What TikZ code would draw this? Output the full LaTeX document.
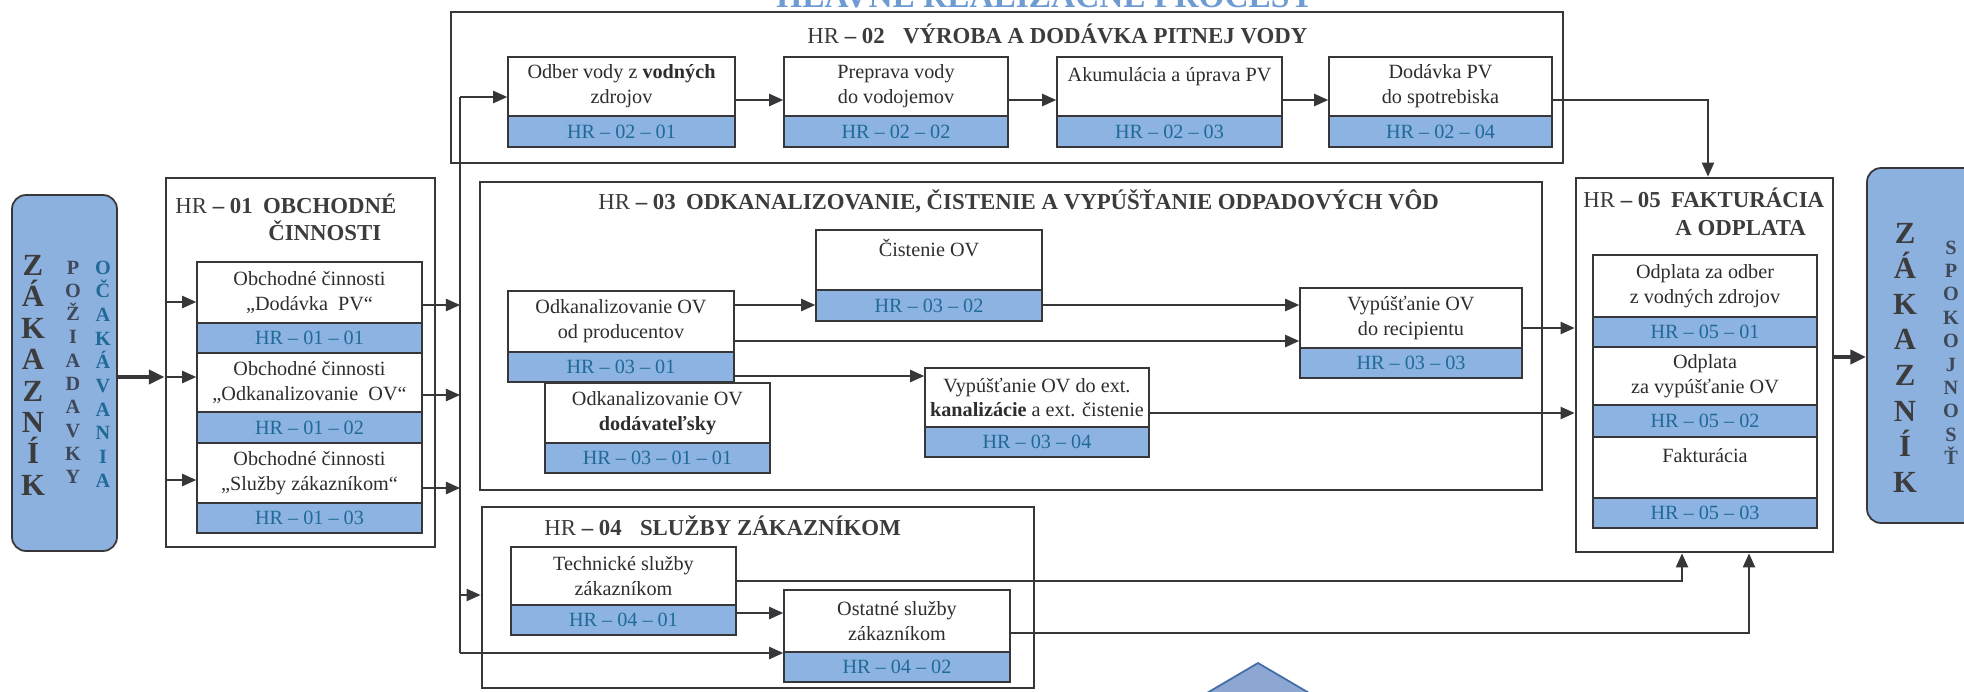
\documentclass[tikz,border=0pt]{standalone}
\usepackage{fontspec}
\setmainfont{Liberation Serif}
\usetikzlibrary{arrows.meta}
\definecolor{bandblue}{RGB}{141,179,226}
\definecolor{custblue}{RGB}{141,177,222}
\definecolor{codeblue}{RGB}{32,106,152}
\definecolor{linegray}{RGB}{55,55,58}
\definecolor{textgray}{RGB}{45,45,45}
\definecolor{titlegray}{RGB}{60,60,60}
\definecolor{reqgray}{RGB}{62,72,88}
\definecolor{diafill}{RGB}{140,168,210}
\definecolor{diadraw}{RGB}{68,108,168}
\definecolor{headblue}{RGB}{110,155,210}
\tikzset{
  grp/.style={draw=linegray, line width=1.6pt, inner sep=0pt},
  procw/.style={draw=linegray, line width=0.9pt, fill=white, inner sep=0pt, align=center, text=textgray, font=\fontsize{11.5}{14.2}\selectfont},
  procc/.style={draw=linegray, line width=0.9pt, fill=bandblue, inner sep=0pt, text=codeblue, font=\fontsize{11.5}{14}\selectfont},
  grptitle/.style={anchor=base west, inner sep=0pt, text=titlegray, font=\fontsize{13}{15}\selectfont\bfseries},
  conn/.style={draw=linegray, line width=0.9pt},
  arr/.style={conn, -{Triangle[length=8pt,width=7pt]}},
  bigarr/.style={draw=linegray, line width=2.2pt, -{Triangle[length=9pt,width=8pt]}},
  cust/.style={draw=linegray, line width=1pt, fill=custblue, rounded corners=8pt, inner sep=0pt},
  bigletter/.style={anchor=base, inner sep=0pt, text=titlegray, font=\fontsize{17.5}{17.5}\selectfont\bfseries},
  smallletter/.style={anchor=base, inner sep=0pt, font=\fontsize{11.5}{11.5}\selectfont\bfseries},
}
% white text box with its blue code band below
\def\hrbox(#1)(#2:#3:#4:#5:#6)#7#8{%
  \node[procw, minimum width={(#3-#2)*0.02cm}, minimum height={(#5-#4)*0.02cm}] (#1) at ({(#2+#3)/2},{(#4+#5)/2}) {#7};
  \node[procc, minimum width={(#3-#2)*0.02cm}, minimum height={(#6-#5)*0.02cm}] (#1c) at ({(#2+#3)/2},{(#5+#6)/2}) {#8};}
% frame of one main process
\def\hrgroup(#1)(#2:#3:#4:#5){%
  \node[grp, minimum width={(#3-#2)*0.02cm}, minimum height={(#5-#4)*0.02cm}] (#1) at ({(#2+#3)/2},{(#4+#5)/2}) {};}

\begin{document}
\begin{tikzpicture}[x=0.02cm, y=-0.02cm]
	\useasboundingbox (0,0) rectangle (1964,691);
	
	%%%%% header, cut at the top %%%%%
	\begin{scope}
		\clip (0,-5) rectangle (1964,9);
		\node[anchor=base, inner sep=0pt, text=headblue, font=\fontsize{19}{19}\selectfont\bfseries] (head) at (1045,7) {HLAVNÉ REALIZAČNÉ PROCESY};
	\end{scope}
	
	%%%%% customers %%%%%
	\node[cust, minimum width=105*0.02cm, minimum height=356*0.02cm] (custL) at (64.5,373) {};
	\node[cust, minimum width=123*0.02cm, minimum height=355*0.02cm] (custR) at (1928.5,345.5) {};
	\foreach \ch [count=\i from 0] in {Z,Á,K,A,Z,N,Í,K}
		\node[bigletter] (zl\i) at (33,{275.5+31.4*\i}) {\ch};
	\foreach \ch [count=\i from 0] in {P,O,Ž,I,A,D,A,V,K,Y}
		\node[smallletter, text=reqgray] (pl\i) at (73,{274+23.3*\i}) {\ch};
	\foreach \ch [count=\i from 0] in {O,Č,A,K,Á,V,A,N,I,A}
		\node[smallletter, text=codeblue] (ol\i) at (103,{274+23.7*\i}) {\ch};
	\foreach \ch [count=\i from 0] in {Z,Á,K,A,Z,N,Í,K}
		\node[bigletter] (zr\i) at (1905,{243+35.6*\i}) {\ch};
	\foreach \ch [count=\i from 0] in {S,P,O,K,O,J,N,O,S,Ť}
		\node[smallletter, text=reqgray] (sr\i) at (1951,{254+23.4*\i}) {\ch};
	
	%%%%% HR-01 %%%%%
	\hrgroup(hr01)(166:435:178:547)
	\node[grptitle] (t01a) at (175,213.5) {{\mdseries HR} – 01\hspace{0.45em}OBCHODNÉ};
	\node[grptitle] (t01b) at (268,240.5) {ČINNOSTI};
	\hrbox(o1)(197:422:262:323:353){Obchodné činnosti\\„Dodávka~~PV“}{HR – 01 – 01}
	\hrbox(o2)(197:422:353:412:443){Obchodné činnosti\\„Odkanalizovanie~~OV“}{HR – 01 – 02}
	\hrbox(o3)(197:422:443:503:533){Obchodné činnosti\\„Služby zákazníkom“}{HR – 01 – 03}
	
	%%%%% HR-02 %%%%%
	\hrgroup(hr02)(451:1563:12:163)
	\node[grptitle] (t02) at (807,43) {{\mdseries HR} – 02\hspace{0.8em}VÝROBA A DODÁVKA PITNEJ VODY};
	\hrbox(b1)(508:735:57:116:147){Odber vody z \textbf{vodných}\\zdrojov}{HR – 02 – 01}
	\hrbox(b2)(784:1008:57:116:147){Preprava vody\\do vodojemov}{HR – 02 – 02}
	\hrbox(b3)(1057:1282:57:116:147){Akumulácia a úprava PV\\\mbox{}}{HR – 02 – 03}
	\hrbox(b4)(1329:1552:57:116:147){Dodávka PV\\do spotrebiska}{HR – 02 – 04}
	
	%%%%% HR-03 %%%%%
	\hrgroup(hr03)(480:1542:182:490)
	\node[grptitle] (t03) at (598,209.5) {{\mdseries HR} – 03\hspace{0.45em}ODKANALIZOVANIE, ČISTENIE A VYPÚŠŤANIE ODPADOVÝCH VÔD};
	\hrbox(k1)(508:734:291:352:382){Odkanalizovanie OV\\od producentov}{HR – 03 – 01}
	\hrbox(k11)(545:770:383:443:473){Odkanalizovanie OV\\\textbf{dodávateľsky}}{HR – 03 – 01 – 01}
	\hrbox(k2)(816:1042:230:290:321){Čistenie OV\\\mbox{}}{HR – 03 – 02}
	\hrbox(k3)(1300:1522:288:348:378){Vypúšťanie OV\\do recipientu}{HR – 03 – 03}
	\hrbox(k4)(925:1149:368:427:457){Vypúšťanie OV do ext.\\\textbf{kanalizácie} a ext. čistenie}{HR – 03 – 04}
	
	%%%%% HR-04 %%%%%
	\hrgroup(hr04)(482:1034:507:688)
	\node[grptitle] (t04) at (544,535.5) {{\mdseries HR} – 04\hspace{0.8em}SLUŽBY ZÁKAZNÍKOM};
	\hrbox(s1)(511:736:547:605:635){Technické služby\\zákazníkom}{HR – 04 – 01}
	\hrbox(s2)(784:1010:590:652:682){Ostatné služby\\zákazníkom}{HR – 04 – 02}
	
	%%%%% HR-05 %%%%%
	\hrgroup(hr05)(1576:1833:178:552)
	\node[grptitle] (t05a) at (1583,207.5) {{\mdseries HR} – 05\hspace{0.45em}FAKTURÁCIA};
	\node[grptitle] (t05b) at (1675,235.5) {A ODPLATA};
	\hrbox(f1)(1593:1817:255:317:347){Odplata za odber\\z vodných zdrojov}{HR – 05 – 01}
	\hrbox(f2)(1593:1817:347:405:437){Odplata\\za vypúšťanie OV}{HR – 05 – 02}
	\hrbox(f3)(1593:1817:437:498:528){Fakturácia\\\mbox{}}{HR – 05 – 03}
	
	%%%%% connectors %%%%%
	\coordinate (ci) at (0,377);
	\coordinate (i1) at (0,302);
	\coordinate (i3) at (0,480);
	\draw[bigarr] (custL.east |- ci) -- (hr01.west |- ci);
	\draw[arr] (hr01.west |- ci) -- (o2.west |- ci);
	\draw[arr] (hr01.west |- i1) -- (o1.west |- i1);
	\draw[arr] (hr01.west |- i3) -- (o3.west |- i3);
	
	\coordinate (tt) at (460,97);
	\coordinate (u1) at (460,305);
	\coordinate (u2) at (460,395);
	\coordinate (u3) at (460,488);
	\coordinate (u4) at (460,595);
	\coordinate (tb) at (460,653);
	\draw[conn] (tb) -- (tt);
	\draw[arr] (o1.east |- u1) -- (u1);
	\draw[arr] (o2.east |- u2) -- (u2);
	\draw[arr] (o3.east |- u3) -- (u3);
	\draw[arr] (tt) -- (tt -| b1.west);
	\draw[arr] (u4) -- (u4 -| hr04.west);
	\draw[arr] (tb) -- (tb -| s2.west);
	
	\coordinate (r2) at (0,100);
	\coordinate (d5) at (1708,100);
	\draw[arr] (b1.east |- r2) -- (b2.west |- r2);
	\draw[arr] (b2.east |- r2) -- (b3.west |- r2);
	\draw[arr] (b3.east |- r2) -- (b4.west |- r2);
	\draw[arr] (b4.east |- d5) -- (d5) -- (d5 |- hr05.north);
	
	\coordinate (h1) at (0,305);
	\coordinate (h2) at (0,341);
	\coordinate (h3) at (0,376);
	\coordinate (h4) at (0,328);
	\coordinate (h5) at (0,413);
	\draw[arr] (k1.east |- h1) -- (k2.west |- h1);
	\draw[arr] (k2.east |- h1) -- (k3.west |- h1);
	\draw[arr] (k1.east |- h2) -- (k3.west |- h2);
	\draw[arr] (k1c.east |- h3) -- (k4.west |- h3);
	\draw[arr] (k3.east |- h4) -- (hr05.west |- h4);
	\draw[arr] (k4.east |- h5) -- (hr05.west |- h5);
	
	\coordinate (g1) at (0,613);
	\coordinate (g2) at (1682,581);
	\coordinate (g3) at (1749,633);
	\draw[arr] (s1.east |- g1) -- (s2.west |- g1);
	\draw[arr] (s1.east |- g2) -- (g2) -- (g2 |- hr05.south);
	\draw[arr] (s2.east |- g3) -- (g3) -- (g3 |- hr05.south);
	
	\coordinate (e1) at (0,357);
	\draw[bigarr] (hr05.east |- e1) -- (custR.west |- e1);
	
	%%%%% diamond, cut at the bottom %%%%%
	\draw[fill=diafill, draw=diadraw, line width=1pt] (1258,663) -- (1338,710) -- (1258,757) -- (1178,710) -- cycle;
\end{tikzpicture}
\end{document}
